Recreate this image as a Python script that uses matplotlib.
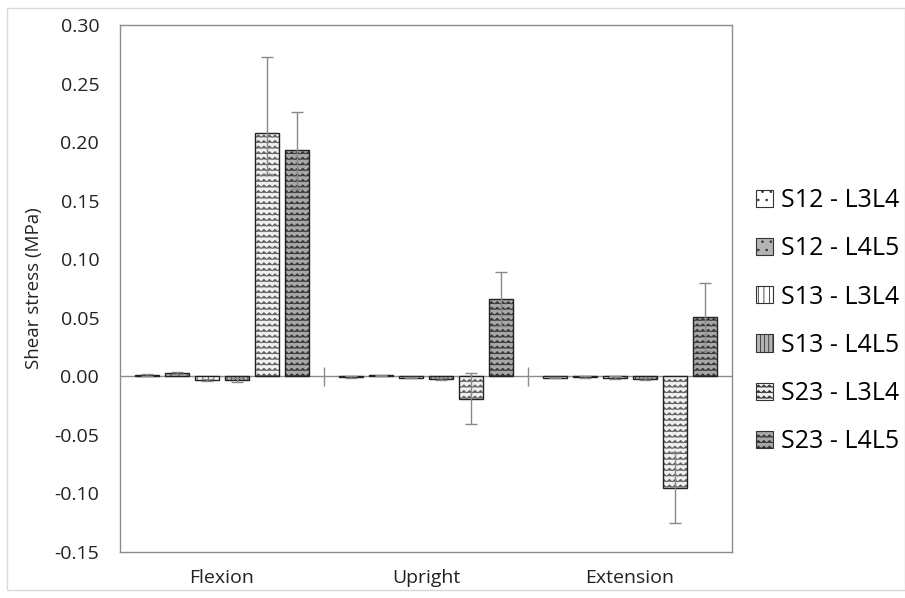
import warnings
warnings.filterwarnings("ignore")
import numpy as np
import matplotlib
matplotlib.use("Agg")
import matplotlib.pyplot as plt
import matplotlib.hatch as mhatch
from matplotlib.path import Path
from matplotlib.patches import Rectangle

# ---------- data ----------
categories = ["Flexion", "Upright", "Extension"]
series = ["S12 - L3L4", "S12 - L4L5", "S13 - L3L4", "S13 - L4L5", "S23 - L3L4", "S23 - L4L5"]
s12_l3l4 = [0.001, -0.0005, -0.001]
s12_l4l5 = [0.003, 0.001, -0.0005]
s13_l3l4 = [-0.003, -0.001, -0.001]
s13_l4l5 = [-0.003, -0.002, -0.002]
s23_l3l4 = [0.208, -0.019, -0.095]
s23_l4l5 = [0.193, 0.066, 0.051]
err_s12_l3l4 = [0.001, 0.0005, 0.0005]
err_s12_l4l5 = [0.001, 0.0005, 0.0005]
err_s13_l3l4 = [0.001, 0.0005, 0.001]
err_s13_l4l5 = [0.002, 0.001, 0.001]
err_low_s23_l3l4 = [0.035, 0.022, 0.030]
err_high_s23_l3l4 = [0.065, 0.022, 0.030]
err_s23_l4l5 = [0.033, 0.023, 0.029]
yticks = [-0.15, -0.10, -0.05, 0.00, 0.05, 0.10, 0.15, 0.20, 0.25, 0.30]

values = [s12_l3l4, s12_l4l5, s13_l3l4, s13_l4l5, s23_l3l4, s23_l4l5]
errors = [
    [err_s12_l3l4, err_s12_l3l4],
    [err_s12_l4l5, err_s12_l4l5],
    [err_s13_l3l4, err_s13_l3l4],
    [err_s13_l4l5, err_s13_l4l5],
    [err_low_s23_l3l4, err_high_s23_l3l4],
    [err_s23_l4l5, err_s23_l4l5],
]

# ---------- custom zigzag hatch ----------
class ZigZagHatch(mhatch.HatchPatternBase):
    def __init__(self, hatch, density):
        self.num_rows = int(hatch.count('z') * density)
        self.n_seg = max(self.num_rows, 1) * 2
        self.num_vertices = self.num_rows * (self.n_seg + 1)

    def set_vertices_and_codes(self, vertices, codes):
        if self.num_rows == 0:
            return
        rows = np.linspace(0.0, 1.0, self.num_rows, endpoint=False) + 0.5 / self.num_rows
        amp = 0.22 / self.num_rows
        xs = np.linspace(0.0, 1.0, self.n_seg + 1)
        offs = np.where(np.arange(self.n_seg + 1) % 2 == 0, -amp, amp)
        k = 0
        for r in rows:
            for j, xv in enumerate(xs):
                vertices[k, 0] = xv
                vertices[k, 1] = r + offs[j]
                codes[k] = Path.MOVETO if j == 0 else Path.LINETO
                k += 1

mhatch._hatch_types.append(ZigZagHatch)

# ---------- style ----------
plt.rcParams['font.family'] = ['Open Sans', 'DejaVu Sans']
plt.rcParams['hatch.linewidth'] = 0.6

fills = ['#ffffff', '#b4b4b4', '#ffffff', '#b4b4b4', '#f0f0f0', '#a8a8a8']
hatches = ['..', '..', '|||', '||||', 'zzz', 'zzz']
hcolors = ['#707070', '#707070', '#303030', '#303030', '#606060', '#383838']

fig = plt.figure(figsize=(9.05, 5.98), dpi=100)
ax = fig.add_axes([120/905, 1-552/598, 612/905, 527/598])

x = np.arange(len(categories))
width = 0.118
step = 0.147
for i, (vals, err) in enumerate(zip(values, errors)):
    pos = x + (i - 2.5) * step
    ax.bar(pos, vals, width, color=fills[i], edgecolor=hcolors[i], hatch=hatches[i],
           linewidth=0, label=series[i], zorder=2)
    ax.bar(pos, vals, width, color='none', edgecolor='#222222', linewidth=1.0, zorder=3)
    ax.errorbar(pos, vals, yerr=err, fmt='none', ecolor='#888888', elinewidth=1.0,
                capsize=4, capthick=1.0, zorder=4)

ax.set_xlim(-0.5, len(categories) - 0.5)
ax.set_ylim(-0.15, 0.30)
ax.set_yticks(yticks)
ax.set_yticklabels([f"{t:.2f}" for t in yticks])
ax.set_xticks(x)
ax.set_xticklabels(categories)
ax.tick_params(axis='y', length=0, pad=15, labelsize=14, colors='#222222')
ax.tick_params(axis='x', length=0, pad=12, labelsize=14, colors='#222222')
for s in ax.spines.values():
    s.set_color('#8c8c8c')
    s.set_linewidth(1.0)
ax.axhline(0, color='#8c8c8c', linewidth=1.0, zorder=1)
ax.vlines([0.5, 1.5], -0.008, 0.008, color='#8c8c8c', linewidth=1.0, zorder=1)
ax.set_ylabel("Shear stress (MPa)", fontsize=13.5, color='#222222', labelpad=8)

leg = fig.legend(loc='upper left', bbox_to_anchor=(746/905, 1-178/598), frameon=False,
                 fontsize=18, handlelength=0.68, handleheight=0.68, handletextpad=0.32,
                 labelspacing=0.93, borderaxespad=0)
for h in leg.legend_handles:
    h.set_linewidth(0.8)
    h.set_edgecolor('#333333')

fig.add_artist(Rectangle((7/905, 8/598), 1 - 7/905, 1 - 16/598, transform=fig.transFigure,
                         fill=False, edgecolor='#d9d9d9', linewidth=1.0))

fig.savefig("out.png", dpi=100)
